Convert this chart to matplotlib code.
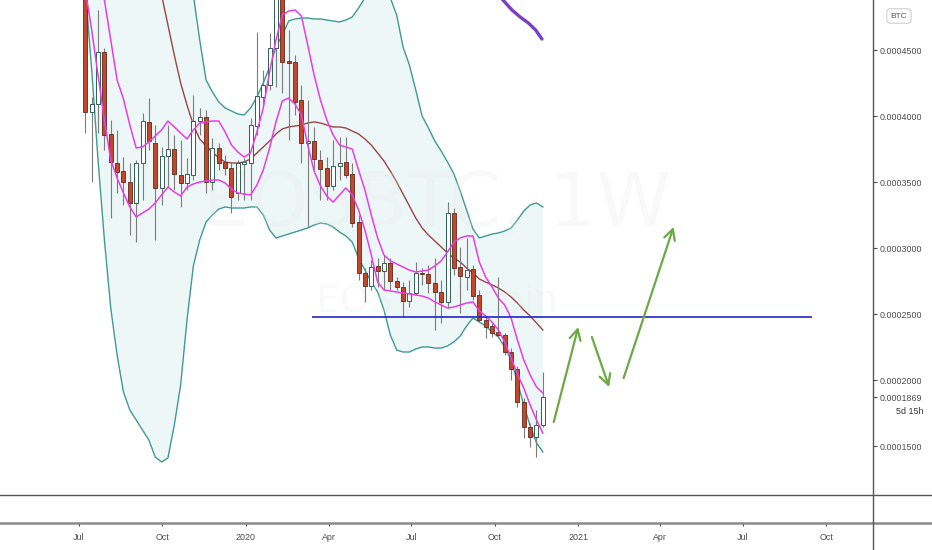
import numpy as np
import pandas as pd
import matplotlib
matplotlib.use('Agg')
import matplotlib.pyplot as plt
import matplotlib.dates as mdates
from matplotlib.lines import Line2D

plt.rcParams['font.family'] = ['Liberation Sans', 'DejaVu Sans']

# EOS/BTC weekly candles, prices in satoshi
weeks = pd.date_range('2019-07-08', periods=73, freq='7D')

opens = [50300, 40300, 40910, 44850, 38640, 36440, 35830, 35000, 33410, 36440,
         39550, 37950, 34550, 36970, 37500, 35530, 34920, 35530, 39620, 39920,
         35000, 37580, 36520, 36060, 34170, 36360, 36440, 39240, 41440, 42350,
         45150, 49170, 44170, 44090, 41210, 37950, 38110, 36670, 36060, 34700,
         36210, 36520, 35610, 31970, 28110, 27120, 28640, 28260, 28860, 27500,
         27050, 25980, 26590, 28110, 28030, 27350, 26670, 25910, 32650, 28560,
         27800, 28410, 26440, 24550, 24090, 23640, 23410, 22120, 20830, 18330,
         16440, 15680, 16590]
highs = [51060, 41440, 48030, 45150, 39700, 38940, 36890, 36440, 36670, 40230,
         41360, 39320, 37650, 39320, 38560, 38180, 36820, 41590, 40610, 40450,
         38330, 37950, 37050, 36520, 36670, 36820, 39850, 46360, 43490, 46290,
         50300, 50300, 46510, 44620, 42350, 41210, 39170, 37420, 36890, 38180,
         38410, 38410, 36440, 32500, 28480, 29090, 29240, 29470, 29240, 27800,
         27420, 27580, 28940, 28480, 28710, 29240, 27580, 33490, 33030, 30080,
         30760, 28710, 26820, 24850, 24320, 27800, 23560, 22420, 21060, 18640,
         16740, 17730, 20610]
lows = [38710, 35000, 38710, 37420, 32270, 34170, 33260, 30980, 30450, 33640,
        37420, 30610, 33260, 34620, 34390, 33110, 34390, 35150, 38560, 34170,
        34390, 35910, 35530, 32650, 33640, 33640, 33640, 38560, 40830, 41970,
        42200, 41740, 38180, 40080, 36440, 31590, 35910, 33640, 33640, 34390,
        35150, 35300, 31590, 27580, 25910, 26820, 27050, 26820, 26820, 26820,
        24770, 25530, 26440, 27200, 26590, 23790, 24320, 25450, 27950, 25080,
        26820, 26060, 24390, 23180, 23260, 23260, 21890, 20000, 17950, 15610,
        14920, 14170, 16440]
closes = [40300, 40910, 44850, 38560, 36520, 35760, 35000, 33410, 36440, 39620,
          38110, 34550, 36970, 37500, 35610, 34920, 35610, 39620, 39920, 35000,
          37580, 36440, 36060, 33860, 36440, 36520, 39320, 41520, 42350, 45150,
          49170, 44090, 44010, 41060, 37950, 38110, 36740, 35980, 34700, 36210,
          36440, 35530, 31890, 28110, 27120, 28560, 28260, 28860, 27500, 27050,
          25980, 26590, 28110, 28030, 27350, 26670, 25910, 32650, 28480, 27880,
          28330, 26360, 24550, 24020, 23560, 23410, 22120, 20830, 18330, 16440,
          15680, 16590, 18690]

# indicators, satoshi
bb_upper = [60150, 60150, 60150, 59390, 58640, 57880, 57120, 56360, 55610, 54850,
            54090, 53330, 52580, 52200, 51820, 51060, 50300, 49170, 45760, 42730,
            41820, 41060, 40610, 40380, 40150, 40080, 40610, 41440, 42500, 43710,
            45230, 46140, 47200, 47350, 47420, 47420, 47350, 47350, 47270, 47200,
            47120, 47270, 47500, 48180, 48940, 49550, 49700, 49390, 48940, 47650,
            45230, 43860, 41970, 40000, 39090, 38110, 37350, 36520, 35610, 34320,
            32880, 31440, 30760, 30910, 31060, 31140, 31290, 31520, 32120, 32800,
            33260, 33410, 33110]
bb_lower = [49550, 43490, 36670, 30610, 25450, 21890, 19090, 17730, 16970, 16210,
            15450, 14170, 13790, 14090, 16590, 19620, 24550, 28640, 30610, 31970,
            32500, 32950, 33110, 33030, 33030, 33030, 33110, 33110, 32500, 31360,
            30760, 30910, 31060, 31210, 31360, 31520, 31740, 31890, 31820, 31590,
            31210, 30910, 30450, 29240, 28330, 27420, 26670, 25300, 23410, 22270,
            22120, 22120, 22350, 22500, 22500, 22420, 22420, 22580, 22880, 23330,
            24090, 24700, 24390, 24090, 23640, 23260, 22500, 21520, 19850, 18110,
            16520, 15230, 14550]
env_upper = [53330, 51820, 50300, 48790, 45760, 42730, 41290, 39320, 37580, 37650,
             38030, 38480, 38940, 39620, 39170, 38710, 38260, 38940, 39470, 39550,
             39620, 39620, 38790, 37800, 37270, 36890, 37200, 38790, 40610, 43330,
             45760, 47650, 47950, 48030, 47580, 45380, 43110, 41210, 39700, 38560,
             37800, 37650, 37500, 35910, 34390, 32500, 30760, 29470, 29020, 28790,
             28560, 28330, 28180, 28260, 28330, 28640, 29020, 29700, 30450, 30760,
             30910, 30910, 28940, 27800, 27050, 26210, 25680, 24700, 23030, 21520,
             20380, 19470, 19020]
env_lower = [49550, 46520, 43110, 39700, 36670, 35300, 34170, 33110, 32350, 32650,
             32950, 33410, 34020, 34620, 34240, 33940, 34620, 34850, 35000, 35080,
             35150, 35150, 34920, 34470, 34170, 34090, 34020, 34770, 35910, 37580,
             39550, 41140, 41360, 40910, 40080, 37800, 35830, 34700, 33940, 33480,
             34020, 34550, 34020, 32880, 31360, 29470, 27420, 26820, 26740, 26670,
             26590, 26520, 26440, 26360, 26210, 25910, 25680, 25450, 25530, 25680,
             25830, 25910, 25230, 24850, 24390, 23790, 22880, 21670, 20450, 19390,
             18110, 16970, 15980]
ma_slow = [68490, 66970, 65450, 63940, 62420, 60910, 59390, 57880, 56360, 54850,
           53330, 51440, 49170, 46890, 44620, 42500, 40830, 39320, 38260, 37730,
           37270, 36820, 36520, 36440, 36440, 36520, 36740, 37200, 37650, 38110,
           38640, 39020, 39170, 39240, 39320, 39470, 39550, 39470, 39320, 39170,
           39170, 39090, 38860, 38640, 38260, 37800, 37200, 36590, 35830, 35000,
           34090, 33180, 32270, 31520, 30980, 30530, 30080, 29620, 29240, 28940,
           28480, 28110, 27650, 27420, 27200, 26970, 26670, 26290, 25830, 25300,
           24850, 24320, 23790]

# drawings
support_level = 24770
support_span = ['2020-03-14', '2021-09-15']
arrow_starts = [('2020-12-05', 16820), ('2021-01-16', 23260), ('2021-02-20', 20150)]
arrow_ends = [('2021-01-01', 24010), ('2021-02-04', 19470), ('2021-04-16', 31590)]
purple_days = ['2020-10-01', '2020-10-10', '2020-10-20', '2020-10-29',
               '2020-11-07', '2020-11-15', '2020-11-22']
purple_vals = [49920, 48790, 48030, 47500, 47050, 46520, 45830]

price_ticks = [0.00015, 0.0002, 0.00025, 0.0003, 0.00035, 0.00045, 0.0004]
time_ticks = ['2019-07-01', '2019-10-01', '2020-01-01', '2020-04-01', '2020-07-01',
              '2020-10-01', '2021-01-01', '2021-04-01', '2021-07-01', '2021-10-01']
time_labels = ['Jul', 'Oct', '2020', 'Apr', 'Jul', 'Oct', '2021', 'Apr', 'Jul', 'Oct']

SAT = 1e-8
x = mdates.date2num(weeks)
o, h, l, c = (np.array(v) * SAT for v in (opens, highs, lows, closes))

fig = plt.figure(figsize=(9.32, 5.5), dpi=100)
ax = fig.add_axes([0, 55 / 550, 873 / 932, 495 / 550])
ax2 = fig.add_axes([0, 27 / 550, 873 / 932, 28 / 550], sharex=ax)

anchor = mdates.date2num(pd.Timestamp('2019-07-01'))
ax.set_xlim(anchor - 87.0, anchor + 874.7)
ax.set_ylim(11288 * SAT, 48788 * SAT)

# bollinger fill + lines
ax.fill_between(x, np.array(bb_lower) * SAT, np.array(bb_upper) * SAT,
                color='#eef7f7', lw=0, zorder=0)
ax.plot(x, np.array(bb_upper) * SAT, color='#3f9b90', lw=1.0, zorder=1)
ax.plot(x, np.array(bb_lower) * SAT, color='#3f9b90', lw=1.0, zorder=1)
ax.plot(x, np.array(ma_slow) * SAT, color='#9a4545', lw=1.0, zorder=1)
ax.plot(x, np.array(env_upper) * SAT, color='#e83de6', lw=1.1, zorder=4)
ax.plot(x, np.array(env_lower) * SAT, color='#e83de6', lw=1.1, zorder=4)

# watermark
ax.text(0.5, 0.585, 'EOSBTC, 1W', transform=ax.transAxes, ha='center', va='center',
        fontsize=54, color='#e4e8ec', alpha=0.22, zorder=1, family='DejaVu Sans')
ax.text(0.5, 0.39, 'EOS / Bitcoin', transform=ax.transAxes, ha='center', va='center',
        fontsize=27, color='#e4e8ec', alpha=0.22, zorder=1, family='DejaVu Sans')

# candles
up = c >= o
ax.vlines(x, l, h, color='#7c7c7c', lw=0.8, zorder=2)
ax.bar(x[~up], (o - c)[~up], bottom=c[~up], width=4.4, color='#c4472c',
       edgecolor='#5e2a1c', lw=0.6, zorder=3)
ax.bar(x[up], np.maximum((c - o)[up], 0.6e-7), bottom=o[up], width=4.4, color='white',
       edgecolor='#2f5f52', lw=0.7, zorder=3)

# drawings
ax.hlines(support_level * SAT, *mdates.date2num(pd.to_datetime(support_span)),
          color='#2323c8', lw=1.2, zorder=5)
for (d0, p0), (d1, p1) in zip(arrow_starts, arrow_ends):
    ax.annotate('', xy=(mdates.date2num(pd.Timestamp(d1)), p1 * SAT),
                xytext=(mdates.date2num(pd.Timestamp(d0)), p0 * SAT),
                arrowprops=dict(arrowstyle='->,head_length=0.75,head_width=0.4',
                                color='#6aa945', lw=1.6, shrinkA=0, shrinkB=0),
                zorder=6)
ax.plot(mdates.date2num(pd.to_datetime(purple_days)), np.array(purple_vals) * SAT,
        color='#7a3ec2', lw=2.4, solid_capstyle='round', zorder=6)

# price scale
ticks = price_ticks + [closes[-1] * SAT]
ax.yaxis.tick_right()
ax.set_yticks(ticks)
ax.set_yticklabels(['%.7f' % t for t in ticks])
ax.tick_params(axis='y', direction='out', length=3, width=0.8, pad=2,
               labelsize=6.4, colors='#4a4a4a')
ax.tick_params(axis='x', bottom=False, labelbottom=False)
ax.annotate('5d 15h', xy=(1, closes[-1] * SAT), xycoords=('axes fraction', 'data'),
            xytext=(36, -10), textcoords='offset points', ha='right', va='center',
            fontsize=6.4, color='#333333', annotation_clip=False)
for s in ax.spines.values():
    s.set_visible(False)

# time scale
ax2.set_yticks([])
ax2.set_xticks(mdates.date2num(pd.to_datetime(time_ticks)))
ax2.set_xticklabels(time_labels)
ax2.tick_params(axis='x', direction='out', length=2.5, width=0.8, pad=5,
                labelsize=6.4, colors='#4a4a4a')
for s in ax2.spines.values():
    s.set_visible(False)

# pane separators
fig.add_artist(Line2D([0, 1], [55 / 550, 55 / 550], color='#555555', lw=1.0))
fig.add_artist(Line2D([0, 1], [27 / 550, 27 / 550], color='#8a8a8a', lw=1.8))
fig.add_artist(Line2D([873 / 932, 873 / 932], [0, 1], color='#555555', lw=1.0))

fig.text(899 / 932, 1 - 16 / 550, 'BTC', ha='center', va='center', fontsize=6,
         color='#555555',
         bbox=dict(boxstyle='round,pad=0.45', fc='white', ec='#cfcfcf', lw=0.8))

fig.savefig('out.png', dpi=100, facecolor='white')
